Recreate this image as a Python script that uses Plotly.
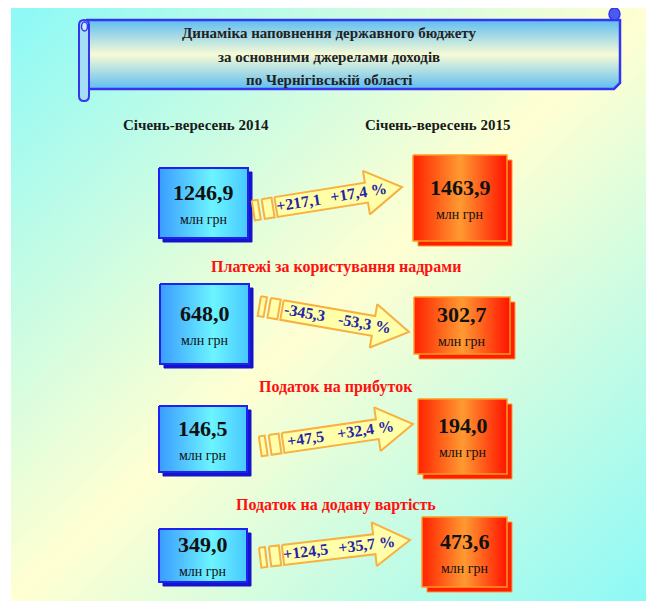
import math
import numpy as np
import plotly.graph_objects as go

# ---------------- data ----------------
title_lines = ["Динаміка наповнення державного бюджету",
               "за основними джерелами доходів",
               "по Чернігівській області"]
period_labels = ["Січень-вересень 2014", "Січень-вересень 2015"]
categories = ["", "Платежі за користування надрами",
              "Податок на прибуток", "Податок на додану вартість"]
values_2014 = [1246.9, 648.0, 146.5, 349.0]
values_2015 = [1463.9, 302.7, 194.0, 473.6]
change_abs = [217.1, -345.3, 47.5, 124.5]
change_pct = [17.4, -53.3, 32.4, 35.7]
unit_label = "млн грн"

# ---------------- layout geometry (screen pixels, y downward) ----------------
W, H = 654, 601
OFF = 8  # page body margin: figure origin sits at screen (8, 8)
blue_boxes = [(159, 248, 168, 238), (160, 249, 284, 364), (159, 247, 406, 472), (159, 247, 529, 582)]
red_boxes = [(413, 507, 155, 241), (414, 510, 297, 354), (418, 507, 399, 474), (422, 507, 517, 587)]
arrow_start = [(276, 207), (282, 310), (283, 443), (283, 555)]
arrow_tip = [(402, 187), (409, 332), (413, 424), (410, 540)]
label_y = [None, 267, 387, 505]

SERIF = "Liberation Serif"


def fmt(v, signed=False):
    s = f"{abs(v):.1f}".replace(".", ",")
    if signed:
        s = ("+" if v >= 0 else "-") + s
    return s


fig = go.Figure()

# background diagonal gradient
nx, ny = 64, 60
bx0, bx1, by0, by1 = 11, 651, 8, 601 + OFF
dx = (bx1 - bx0) / nx
dy = (by1 - by0) / ny
xs = bx0 + dx / 2 + dx * np.arange(nx)
ys = by0 + dy / 2 + dy * np.arange(ny)
XX, YY = np.meshgrid((xs - bx0) / (bx1 - bx0), (ys - by0) / (601 - by0))
Z = np.clip((XX + YY) / 2, 0, 1)
fig.add_trace(go.Heatmap(
    z=Z, x0=xs[0], dx=dx, y0=ys[0], dy=dy, zsmooth="best", showscale=False,
    colorscale=[[0, "#8CF9F7"], [0.5, "#FFFFD2"], [1, "#8CF9F7"]],
    zmin=0, zmax=1, hoverinfo="skip"))


def poly(xs_, ys_, **kw):
    fig.add_trace(go.Scatter(x=list(xs_) + [xs_[0]], y=list(ys_) + [ys_[0]],
                             mode="lines", fill="toself", hoverinfo="skip",
                             showlegend=False, **kw))


def rect(x0, x1, y0, y1, **kw):
    poly([x0, x1, x1, x0], [y0, y0, y1, y1], **kw)


# banner (scroll)
poly([86, 620, 620, 614, 86], [20, 20, 83, 89, 89],
     line=dict(color="#3535F0", width=2.5),
     fillgradient=dict(type="vertical",
                       colorscale=[[0, "#5EBDF2"], [0.5, "#F7FBD6"], [1, "#5EBDF2"]]))

# boxes with shadows
for (bx, rx) in zip(blue_boxes, red_boxes):
    x0, x1, y0, y1 = bx
    rect(x0 + 4, x1 + 4, y0 + 4, y1 + 4, line=dict(color="#1414C8", width=1), fillcolor="#1414C8")
    rect(x0, x1, y0, y1, line=dict(color="#2020F0", width=2),
         fillgradient=dict(type="horizontal",
                           colorscale=[[0, "#3A9CFF"], [0.6, "#6CF4FF"], [1, "#48C8FF"]]))
    x0, x1, y0, y1 = rx
    rect(x0 + 5, x1 + 5, y0 + 5, y1 + 5, line=dict(color="#FF9A30", width=1), fillcolor="#FF1E00")
    rect(x0, x1, y0, y1, line=dict(color="#FF9A20", width=1.5),
         fillgradient=dict(type="horizontal",
                           colorscale=[[0, "#FF2200"], [0.5, "#FF9A32"], [1, "#FF1400"]]))

# arrows
BH, HH, HL = 10, 22, 36
for i, (S, T) in enumerate(zip(arrow_start, arrow_tip)):
    sx, sy = S
    tx, ty = T
    L = math.hypot(tx - sx, ty - sy)
    ux, uy = (tx - sx) / L, (ty - sy) / L
    nxv, nyv = -uy, ux

    def P(a, b):
        return (sx + ux * a + nxv * b, sy + uy * a + nyv * b)

    pts = [P(0, -BH), P(L - HL, -BH), P(L - HL, -HH), P(L, 0),
           P(L - HL, HH), P(L - HL, BH), P(0, BH)]
    poly([p[0] for p in pts], [p[1] for p in pts],
         line=dict(color="#F8B040", width=2), fillcolor="#FFFFAA")
    for a0, a1 in [(-23, -17), (-13, -3)]:
        pts = [P(a0, -BH), P(a1, -BH), P(a1, BH), P(a0, BH)]
        poly([p[0] for p in pts], [p[1] for p in pts],
             line=dict(color="#F8B040", width=2), fillcolor="#FFFFAA")
    ang = math.degrees(math.atan2(ty - sy, tx - sx))
    for a, txt in [(23, fmt(change_abs[i], True)), (84, fmt(change_pct[i], True) + " %")]:
        px, py = P(a, -1)
        fig.add_annotation(x=px, y=py, text=f"<b>{txt}</b>", showarrow=False,
                           textangle=ang, font=dict(family=SERIF, size=16, color="#2424A8"))

# box texts
for i in range(len(categories)):
    for box, val in [(blue_boxes[i], values_2014[i]), (red_boxes[i], values_2015[i])]:
        x0, x1, y0, y1 = box
        cx, cy = (x0 + x1) / 2, (y0 + y1) / 2
        fig.add_annotation(x=cx, y=cy - 11, text=f"<b>{fmt(val)}</b>", showarrow=False,
                           font=dict(family=SERIF, size=22, color="#111111"))
        fig.add_annotation(x=cx, y=cy + 16, text=unit_label, showarrow=False,
                           font=dict(family=SERIF, size=14, color="#111111"))
    if categories[i]:
        fig.add_annotation(x=336, y=label_y[i], text=f"<b>{categories[i]}</b>", showarrow=False,
                           font=dict(family=SERIF, size=16, color="#FF1010"))

# titles
for k, line in enumerate(title_lines):
    fig.add_annotation(x=329, y=33 + 23.5 * k, text=f"<b>{line}</b>", showarrow=False,
                       font=dict(family=SERIF, size=15, color="#222222"))
for x, lab in zip([196, 437], period_labels):
    fig.add_annotation(x=x, y=125, text=f"<b>{lab}</b>", showarrow=False,
                       font=dict(family=SERIF, size=15, color="#1A1A1A"))

# scroll curls
shapes = [
    dict(type="path", path="M 79,25 Q 79,20 84,20 Q 89,20 89,25 L 89,96 Q 89,101 84,101 Q 79,101 79,96 Z",
         fillcolor="#A6DDF6", line=dict(color="#3535F0", width=2), layer="above"),
    dict(type="circle", x0=81.5, x1=87.5, y0=22, y1=31, fillcolor="#C8ECF8",
         line=dict(color="#3535F0", width=1.5), layer="above"),
    dict(type="circle", x0=609, x1=620, y0=8, y1=20, fillcolor="#4A5CF0",
         line=dict(color="#3535F0", width=1.5), layer="above"),
]

fig.update_layout(
    width=W, height=H, margin=dict(l=0, r=0, t=0, b=0),
    paper_bgcolor="white", plot_bgcolor="white", showlegend=False,
    xaxis=dict(range=[OFF, W + OFF], visible=False, fixedrange=True),
    yaxis=dict(range=[H + OFF, OFF], visible=False, fixedrange=True),
    shapes=shapes,
)
fig.write_html("out.html")
